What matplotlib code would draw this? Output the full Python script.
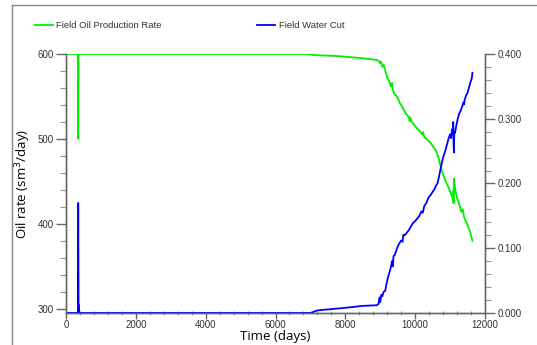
import matplotlib
matplotlib.use("Agg")
from matplotlib import pyplot as plt
from matplotlib.lines import Line2D
from matplotlib.ticker import MultipleLocator, FormatStrFormatter

# oil production rate (sm3/day)
oil_t = [0, 340, 350, 360, 380, 6800, 7200, 7800, 8500, 8900, 8950, 9000, 9020, 9060,
         9100, 9130, 9160, 9200, 9260, 9300, 9340, 9360, 9380, 9420, 9480, 9520, 9560,
         9600, 9640, 9700, 9760, 9820, 9840, 9860, 9900, 9980, 10060, 10140, 10200,
         10230, 10260, 10320, 10400, 10480, 10560, 10620, 10680, 10740, 10800, 10860,
         10920, 10980, 11020, 11060, 11080, 11090, 11100, 11110, 11130, 11160, 11200,
         11240, 11280, 11320, 11360, 11400, 11440, 11480, 11520, 11560, 11600, 11640]
oil = [600, 600, 500, 598, 600, 600, 598.5, 597.5, 595, 593, 592, 589, 591, 585,
       587, 582, 578, 572, 568, 562, 566, 558, 555, 552, 550, 546, 542,
       540, 537, 532, 528, 526, 521, 525, 520, 516, 512, 509, 505,
       508, 502, 500, 497, 493, 488, 484, 476, 466, 458, 451,
       446, 440, 436, 432, 427, 438, 424, 453, 445, 438, 430,
       426, 420, 414, 417, 408, 404, 400, 396, 392, 386, 380]

# water cut (fraction)
wc_t = [0, 340, 350, 360, 370, 380, 7000, 7100, 7200, 7600, 8000, 8500, 8900, 8950,
        8980, 9000, 9030, 9060, 9100, 9140, 9180, 9220, 9260, 9300, 9340, 9360, 9380,
        9420, 9480, 9540, 9600, 9640, 9660, 9700, 9760, 9820, 9880, 9940, 10000, 10060,
        10120, 10180, 10220, 10260, 10320, 10380, 10440, 10500, 10560, 10600, 10640,
        10680, 10740, 10800, 10860, 10920, 10960, 11000, 11030, 11060, 11080, 11090,
        11100, 11110, 11120, 11140, 11180, 11220, 11260, 11300, 11340, 11380, 11400,
        11420, 11460, 11500, 11540, 11580, 11620, 11640]
wc = [0, 0, 0.17, 0.005, 0.012, 0, 0, 0.002, 0.004, 0.006, 0.008, 0.011, 0.012, 0.014,
      0.024, 0.017, 0.028, 0.026, 0.033, 0.034, 0.045, 0.055, 0.062, 0.07, 0.08, 0.072, 0.088,
      0.09, 0.1, 0.107, 0.112, 0.11, 0.121, 0.12, 0.124, 0.128, 0.134, 0.139, 0.142, 0.146,
      0.15, 0.157, 0.155, 0.165, 0.17, 0.178, 0.182, 0.187, 0.192, 0.197, 0.2,
      0.21, 0.226, 0.24, 0.25, 0.262, 0.27, 0.276, 0.27, 0.284, 0.28, 0.295,
      0.262, 0.248, 0.28, 0.278, 0.29, 0.3, 0.308, 0.312, 0.318, 0.325, 0.322,
      0.33, 0.336, 0.34, 0.348, 0.356, 0.362, 0.371]

green = '#00ee00'
blue = '#0000ff'
gray = '#666666'
tickfont = 'Liberation Sans'

fig = plt.figure(figsize=(5.37, 3.45), dpi=100)
ax = fig.add_axes([66/537, 32/345, 419/537, 259/345])
ax2 = ax.twinx()

ax.plot(oil_t, oil, color=green, lw=1.3)
ax2.plot(wc_t, wc, color=blue, lw=1.3)

ax.set_xlim(0, 12000)
ax.set_ylim(294.7, 600)
ax2.set_ylim(0, 0.4)

ax.xaxis.set_major_locator(MultipleLocator(2000))
ax.xaxis.set_minor_locator(MultipleLocator(400))
ax.yaxis.set_major_locator(MultipleLocator(100))
ax.yaxis.set_minor_locator(MultipleLocator(20))
ax2.yaxis.set_major_locator(MultipleLocator(0.1))
ax2.yaxis.set_minor_locator(MultipleLocator(0.02))
ax2.yaxis.set_major_formatter(FormatStrFormatter('%.3f'))

for a in (ax, ax2):
    a.spines['top'].set_visible(False)
    for s in ('left', 'right', 'bottom'):
        a.spines[s].set_color(gray)
        a.spines[s].set_linewidth(1.0)
    a.tick_params(which='major', length=7, width=1, color=gray, labelsize=7, labelcolor='#333333', pad=2)
    a.tick_params(which='minor', length=4, width=0.8, color='#999999')
    for lab in a.get_xticklabels() + a.get_yticklabels():
        lab.set_fontfamily(tickfont)
ax.tick_params(axis='x', which='major', length=4, pad=1)
ax.tick_params(axis='x', which='minor', length=3, direction='inout')

ax.set_xlabel('Time (days)', family='Open Sans', fontsize=9.5)
ax.xaxis.set_label_coords(0.5, -0.064)
ax.set_ylabel('Oil rate (sm$^3$/day)', family='Open Sans', fontsize=9.5)
ax.yaxis.set_label_coords(-0.079, 0.5)

# legend at top
fig.add_artist(Line2D([35/537, 53/537], [1 - 25/345] * 2, color=green, lw=1.3))
fig.text(56/537, 1 - 25/345, 'Field Oil Production Rate', family=tickfont, fontsize=6.8,
         va='center', color='#333333')
fig.add_artist(Line2D([257/537, 275/537], [1 - 25/345] * 2, color=blue, lw=1.3))
fig.text(279/537, 1 - 25/345, 'Field Water Cut', family=tickfont, fontsize=6.8,
         va='center', color='#333333')

# outer frame
fig.add_artist(Line2D([12/537, 1], [1 - 5/345] * 2, color='#888888', lw=1))
fig.add_artist(Line2D([12/537] * 2, [0, 1 - 5/345], color='#888888', lw=1))

fig.savefig('out.png', dpi=100)
